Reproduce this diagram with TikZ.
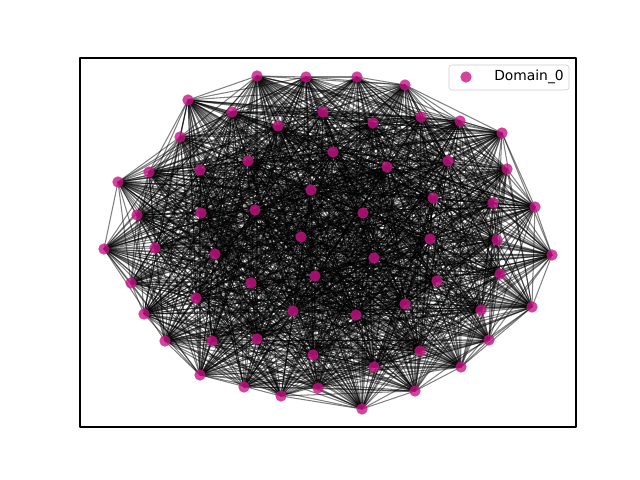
\documentclass[tikz,border=0pt]{standalone}
\usepackage{fontspec}
\setmainfont{DejaVu Sans}
\usetikzlibrary{backgrounds}
\definecolor{domcol}{HTML}{C71585}
\begin{document}
\begin{tikzpicture}[x=0.01in,y=-0.01in,line join=round,line cap=round,font=\fontsize{10}{12}\selectfont,
	vtx/.style={circle,fill=domcol,fill opacity=0.8,inner sep=0pt,minimum size=8.2pt},
	edge/.style={black,opacity=0.5,line width=0.75pt}]
	\useasboundingbox (0,0) rectangle (640,480);
	% vertices
	\foreach \x/\y [count=\i] in {257/76,306/77,357/77,405/85,188/100,232/112,323/112,421/117,460/121,502/133,
		180/137,278/126,373/123,333/152,448/161,248/161,387/167,118/182,149/172,200/170,
		507/169,311/190,433/198,493/203,535/207,137/215,201/213,255/210,363/213,301/237,
		430/239,497/240,104/249,155/248,215/254,374/258,552/255,315/276,500/274,131/283,
		251/283,437/281,196/298,405/304,532/307,144/314,293/311,356/315,481/310,165/341,
		212/341,257/339,489/340,420/351,313/355,374/367,461/367,200/375,244/387,281/396,
		318/388,415/391,362/409}
		\node[vtx] (n\i) at (\x,\y) {};
	% edges
	\pgfmathsetseed{11}
	\begin{scope}[on background layer]
	\foreach \i in {1,...,62}{
		\pgfmathtruncatemacro{\k}{\i+1}
		\foreach \j in {\k,...,63}{
			\pgfmathtruncatemacro{\e}{rnd<0.7}
			\ifnum\e=1 \draw[edge] (n\i.center)--(n\j.center);\fi
		}
	}
	\end{scope}
	\draw[line width=0.8pt] (80,58) rectangle (576,427);
	% legend
	\draw[draw=black!20,fill=white,fill opacity=0.8,rounded corners=2pt] (449,65) rectangle (569,90);
	\node[vtx] (lg) at (466,77) {};
	\node[anchor=west,inner sep=0pt] (lgt) at (494,77) {Domain\_0};
\end{tikzpicture}
\end{document}
